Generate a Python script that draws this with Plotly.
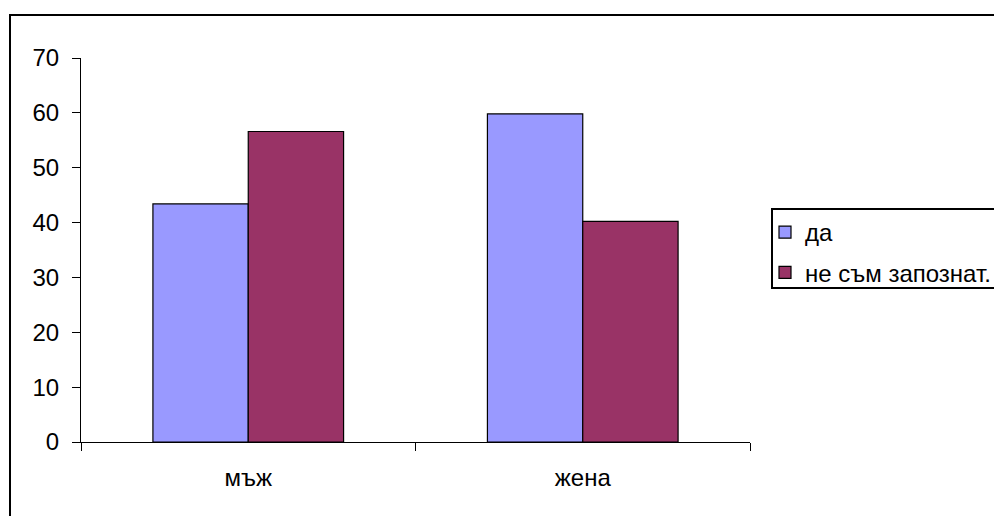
import plotly.graph_objects as go

categories = ["мъж", "жена"]
series_names = ["да", "не съм запознат."]
values_da = [43.4, 59.8]
values_ne = [56.6, 40.2]
colors = ["#9999FF", "#993366"]
y_ticks = [0, 10, 20, 30, 40, 50, 60, 70]

# page body has an 8px margin, so the figure is drawn 8px lower/right
OFF = 8
W, H = 1002 - OFF, 516 - OFF
# plot area in screen pixels: x 81..750, y 58..442
SL, SR, ST, SB = 81, 750, 58, 442
L, T = SL - OFF, ST - OFF
R, B = W - (SR - OFF), H - (SB - OFF)
pw, ph = SR - SL, SB - ST

def px_x(p):
    return (p - SL) / pw

def px_y(p):
    return (SB - p) / ph

FONT = "Liberation Sans, Arial, sans-serif"
FS = 24

fig = go.Figure()
for name, vals, col, grp in zip(series_names, [values_da, values_ne], colors, ["a", "b"]):
    fig.add_trace(go.Bar(
        x=categories, y=vals, name=name, legendgroup=grp,
        marker=dict(color=col, line=dict(color="black", width=1.2)),
    ))

fig.update_layout(
    width=W, height=H,
    margin=dict(l=L, r=R, t=T, b=B, autoexpand=False),
    paper_bgcolor="white", plot_bgcolor="white",
    barmode="group", bargap=0.43, bargroupgap=0,
    font=dict(family=FONT, size=FS, color="black"),
    showlegend=True,
    legend=dict(
        x=px_x(765), y=px_y(210), xanchor="left", yanchor="top",
        bgcolor="rgba(0,0,0,0)", borderwidth=0,
        traceorder="grouped", tracegroupgap=6,
        font=dict(family=FONT, size=FS, color="black"),
        itemwidth=30,
    ),
    xaxis=dict(
        showline=True, linecolor="black", linewidth=1.2,
        ticks="outside", tickson="boundaries", ticklen=8, tickcolor="black", tickwidth=1.2,
        showgrid=False, zeroline=False, ticklabelstandoff=14,
        tickfont=dict(family=FONT, size=FS, color="black"),
    ),
    yaxis=dict(
        range=[0, 70], tickvals=y_ticks, showline=True, linecolor="black", linewidth=1.2,
        ticks="outside", ticklen=8, tickcolor="black", tickwidth=1.2,
        showgrid=False, zeroline=False, ticklabelstandoff=8,
        tickfont=dict(family=FONT, size=FS, color="black"),
    ),
    shapes=[
        dict(type="rect", xref="paper", yref="paper",
             x0=px_x(10), x1=px_x(1030), y0=px_y(15), y1=px_y(540),
             line=dict(color="black", width=2), fillcolor="rgba(0,0,0,0)", layer="above"),
        dict(type="rect", xref="paper", yref="paper",
             x0=px_x(772), x1=px_x(1030), y0=px_y(209), y1=px_y(288),
             line=dict(color="black", width=2), fillcolor="rgba(0,0,0,0)", layer="above"),
    ],
)

fig.write_html("out.html")
